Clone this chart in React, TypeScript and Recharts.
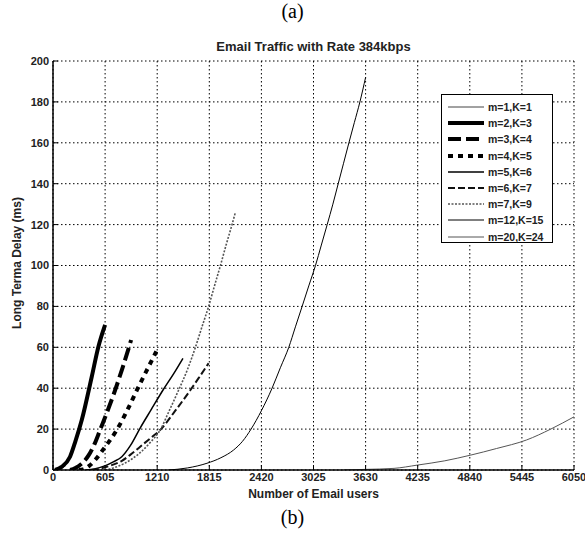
import React from 'react';
import { LineChart, Line, XAxis, YAxis, CartesianGrid } from 'recharts';

// values (users -> delay in ms)
const m1Users = [0, 40, 80, 120, 150];
const m1Delay = [0, 0.2, 0.6, 1.4, 2.2];

const m2Users = [23, 100, 198, 260, 334, 450, 527, 605];
const m2Delay = [0, 1.5, 6.5, 14, 24.4, 45.6, 60.3, 71];

const m3Users = [200, 260, 330, 411, 480, 547, 630, 721, 800, 884, 907];
const m3Delay = [0, 1, 3, 7, 12.5, 19.6, 28.5, 39, 49, 60.3, 63.6];

const m4Users = [300, 349, 420, 489, 600, 741, 860, 974, 1080, 1200];
const m4Delay = [0, 0.3, 2, 4.9, 11, 19.6, 29, 39, 48, 58];

const m5Users = [380, 480, 600, 700, 799, 900, 1012, 1140, 1276, 1400, 1509];
const m5Delay = [0, 0.5, 2, 4, 6.5, 12, 20.5, 29.5, 39, 47, 54.6];

const m6Users = [450, 560, 683, 800, 900, 1012, 1130, 1245, 1420, 1594, 1700, 1807];
const m6Delay = [0, 0.8, 2.4, 4.5, 7.5, 11.4, 15.5, 19.6, 29, 39, 45.5, 52.2];

const m7Users = [605, 700, 818, 920, 1012, 1130, 1245, 1350, 1458, 1560, 1652, 1730, 1807, 1875, 1943, 2010, 2079, 2118];
const m7Delay = [0, 1, 3, 5.5, 8.5, 13.5, 19.6, 29, 39, 49, 59.8, 70, 80, 90, 99.8, 110, 120, 126];

const m12Users = [1341, 1560, 1788, 1950, 2098, 2200, 2300, 2420, 2544, 2640, 2738, 2815, 2893, 2970, 3048, 3116, 3184, 3250, 3312, 3374, 3436, 3500, 3564, 3630];
const m12Delay = [0, 1, 3.3, 6, 9.8, 14, 20, 29, 40, 50, 60, 70, 80, 90, 100, 110, 120, 130, 140, 150, 160, 170, 180, 192];

const m20Users = [3378, 3630, 3960, 4231, 4550, 4852, 5150, 5500, 5780, 6050];
const m20Delay = [0, 0.3, 0.8, 2.4, 4.5, 7.3, 10.5, 14.7, 20, 26];

const xTicks = [0, 605, 1210, 1815, 2420, 3025, 3630, 4235, 4840, 5445, 6050];
const yTicks = [0, 20, 40, 60, 80, 100, 120, 140, 160, 180, 200];

const toPoints = (us: number[], ds: number[]) => us.map((u, i) => ({ users: u, delay: ds[i] }));

const series = [
  { name: 'm=1,K=1', data: toPoints(m1Users, m1Delay), stroke: '#444', width: 1, dash: undefined },
  { name: 'm=2,K=3', data: toPoints(m2Users, m2Delay), stroke: '#000', width: 4, dash: undefined },
  { name: 'm=3,K=4', data: toPoints(m3Users, m3Delay), stroke: '#000', width: 4, dash: '13 5' },
  { name: 'm=4,K=5', data: toPoints(m4Users, m4Delay), stroke: '#000', width: 4, dash: '5 5' },
  { name: 'm=5,K=6', data: toPoints(m5Users, m5Delay), stroke: '#000', width: 1.5, dash: undefined },
  { name: 'm=6,K=7', data: toPoints(m6Users, m6Delay), stroke: '#111', width: 2, dash: '7 3' },
  { name: 'm=7,K=9', data: toPoints(m7Users, m7Delay), stroke: '#555', width: 1.6, dash: '2 1.5' },
  { name: 'm=12,K=15', data: toPoints(m12Users, m12Delay), stroke: '#000', width: 1, dash: undefined },
  { name: 'm=20,K=24', data: toPoints(m20Users, m20Delay), stroke: '#555', width: 1, dash: undefined },
];

const sans = '"Liberation Sans", Arial, sans-serif';
const serif = '"Liberation Serif", "Times New Roman", serif';

const LegendBox = () => (
  <div
    style={{
      position: 'absolute',
      left: 441,
      top: 94,
      width: 112,
      height: 149,
      border: '1px solid #000',
      background: '#fff',
      boxSizing: 'border-box',
    }}
  >
    {series.map((s, i) => (
      <div key={s.name} style={{ position: 'absolute', left: 5, top: 5 + i * 16.2, height: 14, display: 'flex', alignItems: 'center' }}>
        <svg width={38} height={14}>
          <line x1={1} y1={7} x2={37} y2={7} stroke={s.stroke} strokeWidth={s.width} strokeDasharray={s.dash} />
        </svg>
        <span style={{ fontFamily: sans, fontWeight: 'bold', fontSize: 10.5, color: '#222', marginLeft: 3 }}>{s.name}</span>
      </div>
    ))}
  </div>
);

const tickStyle = { fill: '#222', fontSize: 11, fontWeight: 'bold' as const, fontFamily: sans };

export default function App() {
  return (
    <div style={{ position: 'absolute', left: 0, top: 0, width: 585, height: 539, background: '#fff' }}>
      <div style={{ position: 'absolute', left: 0, width: 585, top: 0, textAlign: 'center', fontFamily: serif, fontSize: 20 }}>
        (a)
      </div>
      <div style={{ position: 'absolute', left: 53, width: 521, top: 39, textAlign: 'center', fontFamily: sans, fontWeight: 'bold', fontSize: 13, color: '#222' }}>
        Email Traffic with Rate 384kbps
      </div>
      <LineChart width={585} height={539} margin={{ top: 61, right: 11, bottom: 49, left: 23 }}>
        <CartesianGrid stroke="#000" strokeDasharray="1.5 2.5" strokeWidth={1} />
        <XAxis
          type="number"
          dataKey="users"
          domain={[0, 6050]}
          ticks={xTicks}
          allowDataOverflow
          height={20}
          tick={tickStyle}
          tickSize={-5}
          tickMargin={8}
          tickLine={{ stroke: '#000' }}
          axisLine={{ stroke: '#000', strokeWidth: 1.5 }}
          interval={0}
        />
        <YAxis
          type="number"
          dataKey="delay"
          domain={[0, 200]}
          ticks={yTicks}
          allowDataOverflow
          width={30}
          tick={tickStyle}
          tickSize={-5}
          tickMargin={9}
          tickLine={{ stroke: '#000' }}
          axisLine={{ stroke: '#000', strokeWidth: 1.5 }}
          interval={0}
        />
        {series.map((s) => (
          <Line
            key={s.name}
            data={s.data}
            dataKey="delay"
            name={s.name}
            type="monotone"
            stroke={s.stroke}
            strokeWidth={s.width}
            strokeDasharray={s.dash}
            dot={false}
            activeDot={false}
            isAnimationActive={false}
          />
        ))}
      </LineChart>
      <LegendBox />
      <div style={{ position: 'absolute', left: 53, width: 521, top: 487, textAlign: 'center', fontFamily: sans, fontWeight: 'bold', fontSize: 12, color: '#222' }}>
        Number of Email users
      </div>
      <div
        style={{
          position: 'absolute',
          left: 17,
          top: 263,
          transform: 'translate(-50%, -50%) rotate(-90deg)',
          whiteSpace: 'nowrap',
          fontFamily: sans,
          fontWeight: 'bold',
          fontSize: 12,
          color: '#222',
        }}
      >
        Long Terma Delay (ms)
      </div>
      <div style={{ position: 'absolute', left: 0, width: 585, top: 506, textAlign: 'center', fontFamily: serif, fontSize: 20 }}>
        (b)
      </div>
    </div>
  );
}
